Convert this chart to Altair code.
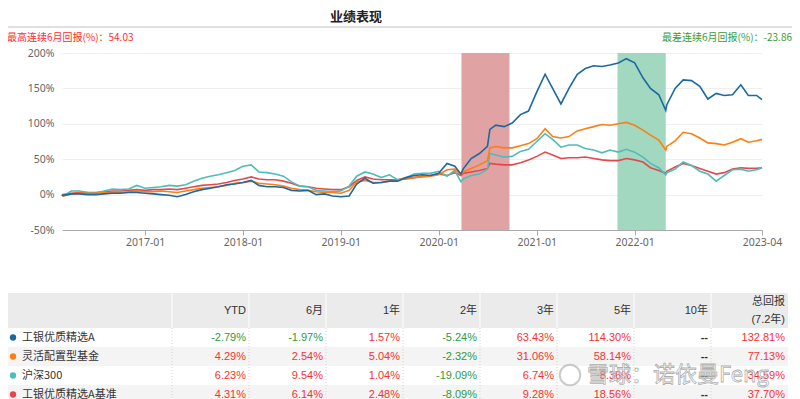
import altair as alt
import pandas as pd

CJK = "Noto Sans CJK SC"
NUM = "Liberation Sans, Arial, Noto Sans CJK SC"
AX = "Noto Sans, Noto Sans CJK SC"
RED = "#f53232"
GREEN = "#2f9a3f"

# ---------------- line data (cumulative return, %) ----------------
dates = [
    "2016-02-26",
    "2016-03-01", "2016-04-01", "2016-05-01", "2016-06-01", "2016-07-01", "2016-08-01", "2016-09-01", "2016-10-01", "2016-11-01", "2016-12-01",
    "2017-01-01", "2017-02-01", "2017-03-01", "2017-04-01", "2017-05-01", "2017-06-01", "2017-07-01", "2017-08-01", "2017-09-01", "2017-10-01", "2017-11-01", "2017-12-01",
    "2018-01-01", "2018-02-01", "2018-03-01", "2018-04-01", "2018-05-01", "2018-06-01", "2018-07-01", "2018-08-01", "2018-09-01", "2018-10-01", "2018-11-01", "2018-12-01",
    "2019-01-01", "2019-02-01", "2019-03-01", "2019-04-01", "2019-05-01", "2019-06-01", "2019-07-01", "2019-08-01", "2019-09-01", "2019-10-01", "2019-11-01", "2019-12-01",
    "2020-01-01", "2020-02-01", "2020-03-01", "2020-03-24", "2020-04-01", "2020-05-01", "2020-06-01", "2020-07-01", "2020-07-10",
    "2020-08-01", "2020-09-01", "2020-10-01", "2020-11-01", "2020-12-01",
    "2021-01-01", "2021-02-01", "2021-03-01", "2021-04-01", "2021-05-01", "2021-06-01", "2021-07-01", "2021-08-01", "2021-09-01", "2021-10-01", "2021-11-01", "2021-12-01",
    "2022-01-01", "2022-02-01", "2022-03-01", "2022-04-01", "2022-04-27",
    "2022-05-01", "2022-06-01", "2022-07-01", "2022-08-01", "2022-09-01", "2022-10-01", "2022-11-01", "2022-12-01",
    "2023-01-01", "2023-02-01", "2023-03-01", "2023-04-01", "2023-04-21",
]

fund_a = [
    0,
    -1, 1, 1, 0, 0, 1, 2, 2, 3, 3,
    2, 1, 0, -1, -3, 0, 4, 7, 9, 11, 14, 15,
    17, 20, 13, 11, 11, 10, 6, 5, 6, 0, 1, -2,
    -3, -2, 15, 23, 16, 17, 19, 19, 24, 27, 28, 27,
    30, 44, 40, 29, 36, 51, 58, 68, 92,
    98, 96, 101, 113, 118,
    145, 170, 150, 128, 150, 170, 178, 182, 181, 183, 186, 192,
    186, 165, 150, 141, 119,
    127, 150, 162, 161, 153, 135, 143, 140,
    141, 155, 140, 140, 134,
]

flex = [
    0,
    -2, 1, 2, 2, 2, 3, 3, 3, 4, 5,
    4, 4, 5, 4, 3, 5, 7, 9, 10, 11, 13, 16,
    17, 19, 16, 15, 14, 12, 9, 7, 6, 4, 3, 3,
    2, 6, 18, 20, 17, 17, 19, 21, 23, 24, 25, 26,
    28, 35, 36, 28, 32, 37, 42, 48, 66,
    68, 66, 66, 69, 72,
    79, 93, 82, 80, 82, 90, 93, 96, 99, 98, 100, 102,
    98, 91, 84, 77, 63,
    68, 76, 88, 86, 80, 73, 72, 70,
    74, 79, 74, 76, 78,
]

hs300 = [
    0,
    -2, 5, 5, 3, 2, 5, 8, 7, 8, 13,
    9, 10, 11, 13, 12, 14, 19, 23, 26, 28, 31, 34,
    40, 42, 32, 31, 29, 26, 18, 12, 11, 6, 5, 4,
    5, 12, 26, 32, 29, 24, 28, 21, 24, 29, 30, 30,
    33, 26, 34, 18, 22, 27, 29, 36, 58,
    56, 53, 54, 61, 64,
    75, 86, 78, 67, 70, 70, 65, 63, 59, 63, 60, 64,
    60, 53, 44, 38, 28,
    31, 36, 46, 41, 33, 29, 19, 27,
    35, 36, 33, 35, 38,
]

bench = [
    0,
    0, 2, 3, 3, 3, 4, 5, 5, 6, 7,
    6, 7, 7, 8, 7, 9, 11, 13, 14, 15, 17, 20,
    22, 25, 22, 21, 21, 19, 16, 12, 11, 9, 8, 7,
    7, 11, 20, 25, 22, 21, 21, 21, 22, 24, 26, 27,
    29, 27, 31, 27, 30, 32, 34, 37, 44,
    43, 42, 42, 45, 49,
    54, 60, 56, 51, 52, 52, 53, 51, 49, 48, 48, 51,
    49, 46, 38, 34, 30,
    33, 39, 44, 41, 37, 33, 29, 31,
    36, 38, 37, 37, 38,
]

series_names = ["工银优质精选A", "灵活配置型基金", "沪深300", "工银优质精选A基准"]
series_colors = ["#1c68a3", "#fb7f12", "#4fbcbc", "#e4484d"]

# highlighted periods (best / worst 6 months)
period_start = ["2020-03-26", "2021-10-29"]
period_end = ["2020-09-21", "2022-04-27"]
period_fill = ["#e0a2a2", "#a2d8bf"]

# axis ticks
y_ticks = [-50, 0, 50, 100, 150, 200]
x_ticks = [(2017, 1, 1), (2018, 1, 1), (2019, 1, 1), (2020, 1, 1), (2021, 1, 1), (2022, 1, 1), (2023, 4, 21)]

# ---------------- table ----------------
table_cols = ["YTD", "6月", "1年", "2年", "3年", "5年", "10年", "总回报\n(7.2年)"]
row_fund_a = [-2.79, -1.97, 1.57, -5.24, 63.43, 114.30, None, 132.81]
row_flex = [4.29, 2.54, 5.04, -2.32, 31.06, 58.14, None, 77.13]
row_hs300 = [6.23, 9.54, 1.04, -19.09, 6.74, 8.36, None, 34.59]
row_bench = [4.31, 6.14, 2.48, -8.09, 9.28, 18.56, None, 37.70]
table_vals = [row_fund_a, row_flex, row_hs300, row_bench]

best_text = "最高连续6月回报(%)：54.03"
worst_text = "最差连续6月回报(%)：-23.86"
title_text = "业绩表现"
watermark_text = "雪球：诺依曼Feng"

all_series = [fund_a, flex, hs300, bench]
for s in all_series:
    assert len(s) == len(dates), len(s)

# long-form line data; blue fund drawn last (on top)
recs = []
for name, vals in reversed(list(zip(series_names, all_series))):
    for d, v in zip(dates, vals):
        recs.append({"date": d, "series": name, "value": v})
line_df = pd.DataFrame(recs)

tbl_recs = []
for name, vals in zip(series_names, table_vals):
    for c, v in zip(table_cols, vals):
        tbl_recs.append({"series": name, "col": c, "val": v})
tbl_df = pd.DataFrame(tbl_recs)
rows_df = pd.DataFrame({"series": series_names, "idx": list(range(len(series_names)))})
cols_df = pd.DataFrame({"col": table_cols})
one = pd.DataFrame({"k": [0]})

# ---------------- scales / axes ----------------
x_scale = alt.Scale(
    type="utc",
    domain=[alt.DateTime(year=2016, month=2, date=26, utc=True),
            alt.DateTime(year=2023, month=4, date=21, utc=True)],
)
x_axis = alt.Axis(
    values=[alt.DateTime(year=a, month=b, date=c, utc=True) for a, b, c in x_ticks],
    labelExpr="utcFormat(datum.value, '%Y-%m')",
    grid=False, domainColor="#aaaaaa", tickColor="#aaaaaa", tickSize=5,
    labelPadding=2, labelColor="#666666", labelFontSize=10.5, labelFont=AX,
    labelFlush=False, labelOverlap=False, title=None,
)
y_scale = alt.Scale(domain=[-50, 200], nice=False, zero=False)
y_axis = alt.Axis(
    values=y_ticks, labelExpr="datum.value + '%'", grid=True, gridColor="#efefef",
    domain=False, ticks=False, labelPadding=8, labelColor="#666666",
    labelFontSize=10.5, labelFont=AX, title=None, labelOverlap=False, labelFlush=False,
    labelBound=False,
)

row_scale = alt.Scale(type="band", domain=series_names, range=[275, 351], paddingInner=0, paddingOuter=0)
col_scale = alt.Scale(type="band", domain=table_cols, range=[110, 726], paddingInner=0, paddingOuter=0)

# ---------------- chart layers ----------------
def period_layer(i):
    df = pd.DataFrame({"start": [period_start[i]], "end": [period_end[i]]})
    return alt.Chart(df).mark_rect(color=period_fill[i], opacity=1).encode(
        x=alt.X("start:T", scale=x_scale, axis=x_axis),
        x2="end:T",
        y=alt.YDatum(200, title=None, axis=y_axis, scale=y_scale),
        y2=alt.Y2Datum(-50),
    )

lines = alt.Chart(line_df).mark_line(strokeWidth=1.6).encode(
    x=alt.X("date:T", scale=x_scale, axis=x_axis),
    y=alt.Y("value:Q", scale=y_scale, axis=y_axis),
    stroke=alt.Stroke("series:N", scale=alt.Scale(domain=series_names, range=series_colors), legend=None),
    detail="series:N",
)

main = alt.layer(period_layer(0), period_layer(1), lines)

header_bg = alt.Chart(one).mark_rect(color="#ebebeb").encode(
    x=alt.value(-55), x2=alt.value(726), y=alt.value(240), y2=alt.value(275))

row_bg = alt.Chart(rows_df).mark_rect().encode(
    x=alt.value(-55), x2=alt.value(726),
    y=alt.Y("series:N", scale=row_scale, axis=None),
    color=alt.condition("datum.idx % 2 == 1", alt.value("#f4f4f4"), alt.value("#ffffff")),
)

sep_body = alt.Chart(cols_df).mark_rule(color="#d4d4d4", strokeDash=[1, 2]).encode(
    x=alt.X("col:N", scale=col_scale, axis=None, bandPosition=0),
    y=alt.value(275), y2=alt.value(351))
sep_head = alt.Chart(cols_df).mark_rule(color="#ffffff", strokeWidth=1).encode(
    x=alt.X("col:N", scale=col_scale, axis=None, bandPosition=0),
    y=alt.value(240), y2=alt.value(275))

header_single = alt.Chart(cols_df).transform_filter(
    "indexof(datum.col, '\\n') < 0"
).mark_text(
    align="right", baseline="middle", dx=-3, font=NUM, fontSize=11, color="#333333",
).encode(
    x=alt.X("col:N", scale=col_scale, axis=None, bandPosition=1),
    y=alt.value(257.5), text="col:N")

header_multi = alt.Chart(cols_df).transform_filter(
    "indexof(datum.col, '\\n') >= 0"
).mark_text(
    align="right", baseline="middle", dx=-3, lineBreak="\n", lineHeight=18,
    font=NUM, fontSize=11, color="#333333",
).encode(
    x=alt.X("col:N", scale=col_scale, axis=None, bandPosition=1),
    y=alt.value(249), text="col:N")

body_text = alt.Chart(tbl_df).transform_filter(
    "isValid(datum.val)"
).transform_calculate(
    label="replace(format(datum.val, '.2f'), '\u2212', '-') + '%'",
    tone="datum.val < 0 ? 'neg' : 'pos'",
).mark_text(align="right", baseline="middle", dx=-3, font=NUM, fontSize=11).encode(
    x=alt.X("col:N", scale=col_scale, axis=None, bandPosition=1),
    y=alt.Y("series:N", scale=row_scale, axis=None),
    text="label:N",
    fill=alt.Fill("tone:N", scale=alt.Scale(domain=["neg", "pos"], range=[GREEN, RED]), legend=None),
)

na_text = alt.Chart(tbl_df).transform_filter(
    "!isValid(datum.val)"
).mark_text(
    align="right", baseline="middle", dx=-3, font=NUM, fontSize=11, fontWeight="bold",
    color="#333333", text="--",
).encode(
    x=alt.X("col:N", scale=col_scale, axis=None, bandPosition=1),
    y=alt.Y("series:N", scale=row_scale, axis=None),
)

names = alt.Chart(rows_df).mark_text(
    align="left", baseline="middle", font=CJK, fontSize=11, color="#333333").encode(
    x=alt.value(-40), y=alt.Y("series:N", scale=row_scale, axis=None), text="series:N")

dots = alt.Chart(rows_df).mark_circle(size=40, opacity=1).encode(
    x=alt.value(-49),
    y=alt.Y("series:N", scale=row_scale, axis=None),
    color=alt.Color(
        "series:N",
        scale=alt.Scale(domain=series_names, range=series_colors),
        legend=alt.Legend(
            orient="none", legendX=156, legendY=203, direction="horizontal", title=None,
            symbolType="circle", symbolSize=45, labelFont=CJK, labelFontSize=11,
            labelColor="#333333", columnPadding=12, labelOffset=4,
        ),
    ),
)

title = alt.Chart(one).mark_text(
    text=title_text, font=CJK, fontSize=13, fontWeight="bold", color="#222222",
    align="center", baseline="middle").encode(x=alt.value(294), y=alt.value(-36))

top_line = alt.Chart(one).mark_rule(color="#d6d6d6", strokeWidth=1.5).encode(
    x=alt.value(-54), x2=alt.value(730), y=alt.value(-26))

best = alt.Chart(one).mark_text(
    text=best_text, font=CJK, fontSize=10, color="#ff2d2d", align="left", baseline="middle"
).encode(x=alt.value(-55), y=alt.value(-15))
worst = alt.Chart(one).mark_text(
    text=worst_text, font=CJK, fontSize=10, color="#3a9a3a", align="right", baseline="middle"
).encode(x=alt.value(730), y=alt.value(-15))

wm_logo = alt.Chart(one).mark_point(
    shape="circle", size=420, filled=False, color="#aaaaaa", strokeWidth=2, opacity=0.6
).encode(x=alt.value(508), y=alt.value(322))
watermark = alt.Chart(one).mark_text(
    text=watermark_text, font=CJK, fontSize=22, fill="#ffffff", fillOpacity=0.55,
    stroke="#999999", strokeWidth=0.8, strokeOpacity=0.8, align="left", baseline="middle"
).encode(x=alt.value(525), y=alt.value(322))

chart = alt.layer(
    main, header_bg, row_bg, sep_body, sep_head, header_single, header_multi, body_text,
    na_text, names, dots, title, top_line, best, worst, wm_logo, watermark,
).resolve_scale(
    x="independent", y="independent"
).properties(
    width=700, height=177,
    autosize=alt.AutoSizeParams(type="none"),
    padding={"left": 54, "top": 45, "right": 30, "bottom": 169},
    background="#ffffff",
).configure_view(stroke=None)

chart.save("out.html", embed_options={"renderer": "svg", "actions": False})
